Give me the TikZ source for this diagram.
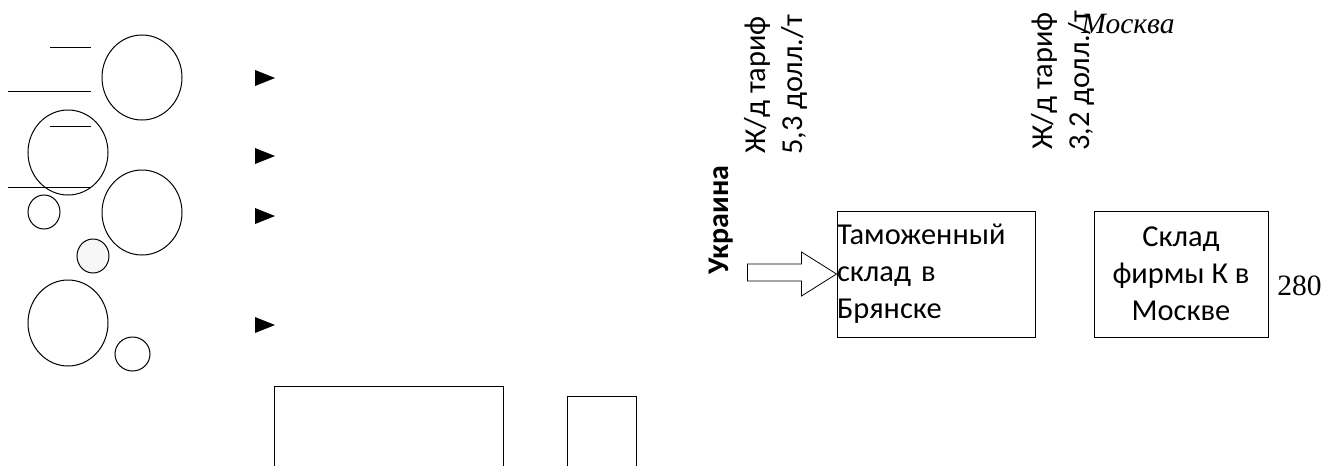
\documentclass[tikz,border=0pt]{standalone}
\usepackage{fontspec}
\setmainfont{Carlito}
\newfontfamily\timesfont{Liberation Serif}
\usetikzlibrary{positioning}
\begin{document}
\begin{tikzpicture}[x=0.5pt, y=-0.5pt,
    txt/.style={font=\fontsize{15.2}{18.5}\selectfont, inner sep=0pt},
    boldtxt/.style={font=\fontsize{15}{18.5}\selectfont\bfseries, inner sep=0pt},
    serif/.style={font=\timesfont\fontsize{14.75}{18.5}\selectfont, inner sep=0pt},
    box/.style={txt, draw, line width=0.5pt, minimum height=63pt},
    rate/.style={txt, rotate=90, align=center},
    ring/.style={line width=0.5pt}]
  \useasboundingbox (0,0) rectangle (1322,466);
  % left part
  \draw[ring] (50,47) -- (91,47);
  \draw[ring] (8,91) -- (91,91);
  \draw[ring] (50,126) -- (91,126);
  \draw[ring] (8,187) -- (91,187);
  \foreach \cx/\cy/\rx/\ry in {142/77.5/20/21.25, 68/152.5/20/21.25, 142/212.5/20/21.25,
      68/323/20/21.5, 44/212/8/8.5, 132.5/354/8.75/8.5}
    \draw[ring] (\cx,\cy) ellipse [x radius=\rx pt, y radius=\ry pt];
  \draw[ring, fill=black!3] (93,256) ellipse [x radius=8pt, y radius=8.5pt];
  \foreach \ty in {78,156,216,325}
    \fill (255,\ty-8) -- (275,\ty) -- (255,\ty+8) -- cycle;
  \draw[ring] (274,466) |- (503,386) -- (503,466);
  \draw[ring] (567,466) |- (636,396) -- (636,466);
  % right part
  \node[box, text width=99pt, align=left] (tam) at (936,274) {Таможенный\\склад в\\Брянске};
  \node[box, right=29pt of tam, minimum width=87pt, align=center] (kmos) {Склад\\фирмы К в\\Москве};
  \node[serif, anchor=base west] (n280) at (1277,295) {280};
  \node[rate] (zd1) at (776,85) {Ж/д тариф\\5,3 долл./т};
  \node[rate] (zd2) at (1063,81) {Ж/д тариф\\3,2 долл./т};
  \node[boldtxt, rotate=90, anchor=base] (ukr) at (728,220) {Украина};
  \node[serif, font=\timesfont\itshape\fontsize{14.75}{18.5}\selectfont, anchor=base west] (msk) at (1081,33) {Москва};
  \draw[line width=0.4pt] (tam.west) -- ++(-35,-22) -- ++(0,12) -- ++(-54,0) -- ++(0,17)
    -- ++(54,0) -- ++(0,15) -- cycle;
\end{tikzpicture}
\end{document}
